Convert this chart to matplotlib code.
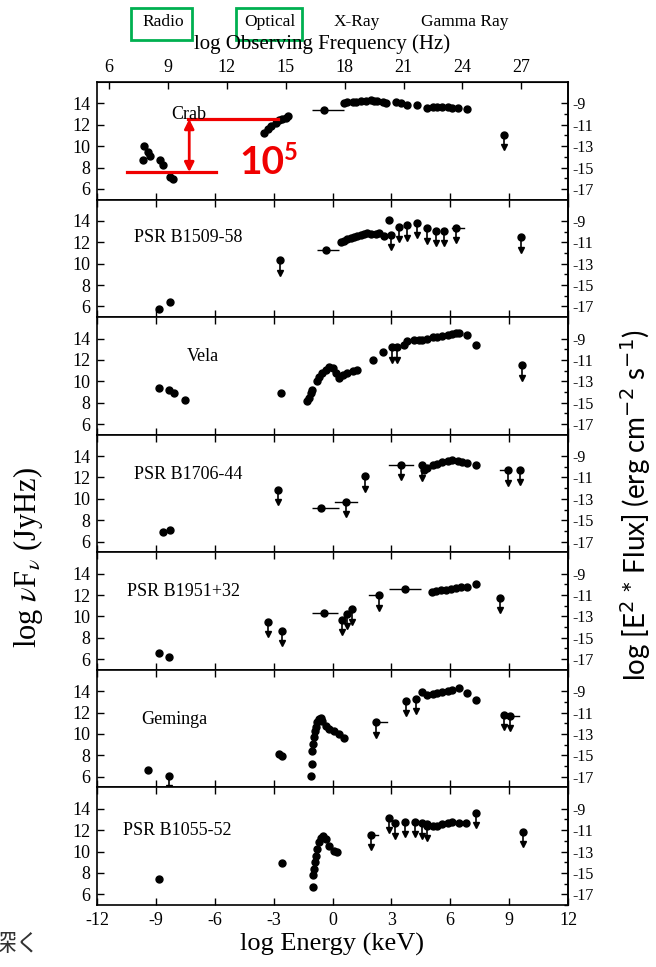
import matplotlib
matplotlib.use("Agg")
import matplotlib.pyplot as plt
from matplotlib.patches import Rectangle

# --- data (log E [keV], log nuFnu [Jy Hz]) ---
names = ["Crab", "PSR B1509-58", "Vela", "PSR B1706-44", "PSR B1951+32", "Geminga", "PSR B1055-52"]
name_x = [-8.2, -10.1, -7.4, -10.1, -10.45, -9.75, -10.7]
name_y = [13.0, 12.45, 12.3, 12.3, 12.3, 11.4, 11.95]

crab_x = [-9.59, -9.65, -9.42, -9.3, -8.8, -8.65, -8.3, -8.15,
          -3.48, -3.3, -3.15, -2.9, -2.73, -2.56, -2.39, -2.25,
          0.59, 0.76, 1.02, 1.19, 1.44, 1.7, 1.95, 2.12, 2.29, 2.55, 2.71,
          3.22, 3.48, 3.82, 4.33, 4.84, 5.1, 5.35, 5.6, 5.86, 6.11, 6.37, 6.87]
crab_y = [10.0, 8.66, 9.43, 9.1, 8.7, 8.25, 7.15, 6.95,
          11.2, 11.6, 11.9, 12.2, 12.4, 12.5, 12.65, 12.8,
          14.0, 14.1, 14.1, 14.15, 14.2, 14.25, 14.3, 14.25, 14.2, 14.15, 14.05,
          14.15, 14.03, 13.88, 13.85, 13.6, 13.65, 13.7, 13.65, 13.65, 13.6, 13.6, 13.47]
crab_bar = [(-0.43, 13.38, 0.6, 1.0)]
crab_ul = [(8.74, 11.08, 0, 0)]

b1509_x = [-8.83, -8.29, 0.42, 0.59, 0.76, 0.93, 1.1, 1.27, 1.44, 1.61, 1.78, 1.95,
           2.2, 2.38, 2.63, 2.88]
b1509_y = [5.78, 6.37, 12.0, 12.15, 12.3, 12.4, 12.5, 12.6, 12.7, 12.8, 12.9, 12.8,
           12.75, 12.85, 12.55, 14.1]
b1509_bar = [(-0.34, 11.32, 0.45, 0.68)]
b1509_ul = [(-2.68, 10.3, 0, 0), (2.97, 12.7, 0, 0), (3.39, 13.48, 0, 0), (3.82, 13.6, 0, 0),
            (4.33, 13.85, 0, 0), (4.79, 13.3, 0, 0), (5.26, 13.08, 0, 0), (5.69, 13.08, 0, 0),
            (6.28, 13.38, 0.2, 0.4), (9.59, 12.46, 0, 0)]

vela_x = [-8.83, -8.32, -8.07, -7.5, -2.63,
          -1.28, -1.19, -1.1, -1.02, -0.77, -0.68, -0.51, -0.34, -0.17, 0.0, 0.17, 0.34,
          0.51, 0.76, 1.02, 1.27, 2.04, 2.55, 3.65, 3.82,
          4.16, 4.41, 4.58, 4.84, 5.1, 5.35, 5.6, 5.86, 6.11, 6.28, 6.45, 6.87, 7.3]
vela_y = [9.33, 9.17, 8.92, 8.24, 8.86,
          8.17, 8.48, 8.92, 9.17, 10.04, 10.42, 10.79, 11.1, 11.29, 11.2, 10.79, 10.26,
          10.57, 10.79, 10.98, 11.1, 11.98, 12.75, 13.38, 13.78,
          13.9, 13.9, 13.9, 14.0, 14.1, 14.16, 14.25, 14.3, 14.4, 14.47, 14.47, 14.3, 13.38]
vela_bar = []
vela_ul = [(3.05, 13.16, 0, 0), (3.31, 13.16, 0, 0), (9.64, 11.5, 0, 0)]

b1706_x = [-8.63, -8.29, 4.67, 4.84, 5.1, 5.35, 5.6, 5.86, 6.11, 6.37, 6.62, 6.87, 7.3]
b1706_y = [6.94, 7.13, 12.72, 12.88, 13.13, 13.28, 13.41, 13.5, 13.59, 13.53, 13.44, 13.34, 13.19]
b1706_bar = [(-0.6, 9.16, 0.42, 0.93)]
b1706_ul = [(-2.77, 10.84, 0, 0), (0.68, 9.69, 0.55, 0.55), (1.66, 12.1, 0, 0),
            (3.48, 13.19, 0.62, 0.62), (4.58, 13.13, 0, 0), (8.96, 12.66, 0.45, 0),
            (9.56, 12.72, 0, 0)]

b1951_x = [-8.86, -8.32, 5.06, 5.26, 5.52, 5.77, 6.03, 6.28, 6.54, 6.87, 7.3]
b1951_y = [6.54, 6.16, 12.28, 12.37, 12.43, 12.5, 12.59, 12.65, 12.75, 12.75, 13.0]
b1951_bar = [(-0.43, 10.33, 0.6, 0.72), (3.7, 12.53, 0.8, 0.8)]
b1951_ul = [(-3.28, 9.52, 0, 0), (-2.58, 8.67, 0, 0), (0.46, 9.71, 0, 0), (0.76, 10.24, 0, 0),
            (0.98, 10.65, 0, 0), (2.38, 11.96, 0.5, 0), (8.52, 11.71, 0, 0)]

geminga_x = [-9.42, -2.72, -2.58,
             -1.1, -1.05, -1.02, -0.98, -0.93, -0.88, -0.85, -0.77, -0.68, -0.6, -0.51, -0.34,
             -0.17, 0.08, 0.34, 0.59,
             4.58, 4.84, 5.1, 5.35, 5.6, 5.86, 6.11, 6.45, 6.87, 7.3]
geminga_y = [6.63, 8.13, 7.97,
             6.09, 7.19, 8.38, 9.06, 9.69, 10.31, 10.63, 11.1, 11.41, 11.5, 11.25, 10.78,
             10.47, 10.25, 10.0, 9.63,
             13.9, 13.66, 13.75, 13.84, 13.94, 14.03, 14.13, 14.28, 13.84, 13.22]
geminga_bar = []
geminga_ul = [(-8.32, 6.1, 0, 0), (2.24, 11.1, 0, 0.55), (3.77, 13.13, 0, 0), (4.28, 13.28, 0, 0),
              (8.74, 11.78, 0, 0), (9.03, 11.69, 0, 0.45)]

b1055_x = [-8.86, -2.55,
           -0.99, -0.97, -0.94, -0.9, -0.85, -0.8, -0.71, -0.6, -0.48, -0.34, -0.17, 0.08, 0.25,
           4.84, 5.1, 5.35, 5.6, 5.86, 6.11, 6.45, 6.79]
b1055_y = [7.4, 8.94,
           6.69, 7.77, 8.38, 9.0, 9.62, 10.23, 10.85, 11.31, 11.46, 11.15, 10.54, 10.08, 9.99,
           12.55, 12.4, 12.4, 12.55, 12.7, 12.77, 12.7, 12.64]
b1055_bar = []
b1055_ul = [(1.95, 11.53, 0, 0.35), (2.88, 13.17, 0, 0), (3.19, 12.64, 0, 0), (3.7, 12.8, 0, 0),
            (4.21, 12.8, 0, 0), (4.58, 12.64, 0, 0), (4.79, 12.4, 0, 0), (7.3, 13.63, 0, 0),
            (9.73, 11.84, 0, 0)]

points = [(crab_x, crab_y), (b1509_x, b1509_y), (vela_x, vela_y), (b1706_x, b1706_y),
          (b1951_x, b1951_y), (geminga_x, geminga_y), (b1055_x, b1055_y)]
bars = [crab_bar, b1509_bar, vela_bar, b1706_bar, b1951_bar, geminga_bar, b1055_bar]
uls = [crab_ul, b1509_ul, vela_ul, b1706_ul, b1951_ul, geminga_ul, b1055_ul]

x_ticks = list(range(-12, 13, 3))
freq_ticks = list(range(6, 28, 3))
y_ticks = [6, 8, 10, 12, 14]
flux_ticks = [-9, -11, -13, -15, -17]

plt.rcParams['font.family'] = ['Liberation Serif', 'DejaVu Serif']
plt.rcParams['mathtext.fontset'] = 'stix'
plt.rcParams['axes.unicode_minus'] = False

W, H = 656, 967


def fxy(x, y):
    # pixel position -> figure fraction
    return x / W, 1 - y / H


fig, axes = plt.subplots(7, 1, figsize=(W / 100, H / 100), dpi=100, sharex=True)
fig.subplots_adjust(left=97 / W, right=568 / W, top=1 - 82 / H, bottom=1 - 905 / H, hspace=0)

ul_len = 1.15
for i, ax in enumerate(axes):
    ax.set_xlim(-12, 12)
    ax.set_ylim(5, 16)
    for s in ax.spines.values():
        s.set_linewidth(1.2)
    px, py = points[i]
    ax.plot(px, py, 'o', color='black', ms=5, clip_on=False)
    for (bx, by, el, er) in bars[i]:
        ax.errorbar([bx], [by], xerr=[[el], [er]], fmt='o', color='black', ms=5,
                    elinewidth=1, capsize=0)
    for (ux, uy, el, er) in uls[i]:
        ax.plot([ux], [uy], 'o', color='black', ms=5, clip_on=False)
        ax.plot([ux, ux], [uy, uy - ul_len], color='black', lw=1.2, clip_on=False)
        ax.plot([ux], [uy - ul_len], 'v', color='black', ms=5, clip_on=False)
        if el or er:
            ax.plot([ux - el, ux + er], [uy, uy], color='black', lw=1, clip_on=False)
    ax.text(name_x[i], name_y[i], names[i], fontsize=13, ha='left', va='center')

    ax.set_xticks(x_ticks)
    ax.set_yticks(y_ticks)
    ax.tick_params(axis='both', direction='in', length=5, width=1, labelsize=13,
                   top=(i > 0), right=False, pad=5)
    ax2 = ax.secondary_yaxis('right', functions=(lambda y: y - 23, lambda y: y + 23))
    ax2.set_yticks(flux_ticks)
    ax2.set_yticks([-10, -12, -14, -16, -18], minor=True)
    ax2.tick_params(which='major', direction='in', length=5, width=1, labelsize=11.5, pad=3)
    ax2.tick_params(which='minor', direction='in', length=3, width=1)
    ax2.spines['right'].set_linewidth(1.2)

axes[-1].set_xlabel('log Energy (keV)', fontsize=19, labelpad=3)

sec = axes[0].secondary_xaxis('top', functions=(lambda e: e + 17.38, lambda n: n - 17.38))
sec.set_xticks(freq_ticks)
sec.tick_params(direction='in', length=5, width=1, labelsize=13, pad=4)
fig.text(*fxy(322, 44), 'log Observing Frequency (Hz)', fontsize=15, ha='center', va='center')

# band labels and green boxes
for lab, cx in [('Radio', 163), ('Optical', 270), ('X-Ray', 357), ('Gamma Ray', 465)]:
    fig.text(*fxy(cx, 22), lab, fontsize=12.5, ha='center', va='center')
for x0, x1 in [(131, 192), (236, 302)]:
    fig.patches.append(Rectangle(fxy(x0, 40), (x1 - x0) / W, 32 / H, transform=fig.transFigure,
                                 fill=False, edgecolor='#00b050', lw=2))

fig.text(*fxy(28, 557), r'log $\nu$F$_\nu$ (JyHz)', fontsize=22, rotation=90,
         ha='center', va='center')
fig.text(*fxy(636, 505), r'log [E$^2$ * Flux] (erg cm$^{-2}$ s$^{-1}$)', fontsize=20,
         rotation=90, ha='center', va='center', family='Lato', math_fontfamily='dejavusans')

# red annotation on the Crab panel
ax = axes[0]
red = '#f00000'
ax.plot([-7.34, -2.8], [12.54, 12.54], color=red, lw=2.3)
ax.plot([-10.48, -5.94], [7.57, 7.57], color=red, lw=2.3)
ax.annotate('', xy=(-7.3, 7.57), xytext=(-7.3, 12.54),
            arrowprops=dict(arrowstyle='<|-|>', color=red, lw=2, mutation_scale=14,
                            shrinkA=0, shrinkB=0))
ax.text(-4.75, 8.45, '10', color=red, fontsize=28, fontweight='bold', family='Lato',
        ha='left', va='center')
ax.text(-2.45, 9.4, '5', color=red, fontsize=17, fontweight='bold', family='Lato',
        ha='left', va='center')

fig.text(-0.012, 0.023, '深く', fontsize=17, color='#333333', va='center',
         family=['Noto Sans CJK JP', 'DejaVu Sans'])

fig.savefig('out.png', dpi=100)
